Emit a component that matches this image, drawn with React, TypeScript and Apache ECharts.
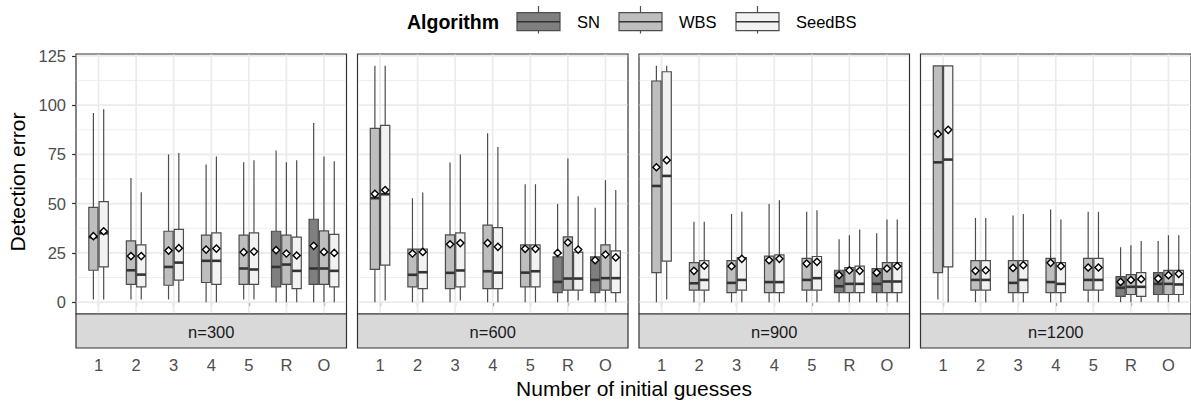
import React, { useEffect, useRef } from "react";
import * as echarts from "echarts";

const categories = ["1", "2", "3", "4", "5", "R", "O"];
const panelLabels = ["n=300", "n=600", "n=900", "n=1200"];
const algorithms = ["SN", "WBS", "SeedBS"];
const algoFill = ["#7f7f7f", "#bebebe", "#f2f2f2"];
const yTicks = [0, 25, 50, 75, 100, 125];
const yMinor = [12.5, 37.5, 62.5, 87.5, 112.5];

// [lower whisker, Q1, median, Q3, upper whisker] per category; null = not present
const n300_SN = [null, null, null, null, null, [0, 7.8, 17.9, 36, 77], [0, 9, 17.1, 42.1, 91]];
const n300_SN_mean = [null, null, null, null, null, 26.4, 28.6];
const n300_WBS = [[1.4, 16.2, 33, 48.1, 96.1], [1.4, 9, 16.2, 31.1, 63.1], [1.4, 8.6, 17.9, 36, 75], [0, 10, 21, 34, 69.9], [1.4, 9, 17.1, 34, 71], [0, 9, 19.1, 34, 71], [0, 9, 17.1, 36.2, 74]];
const n300_WBS_mean = [33.5, 23.4, 26.2, 26.7, 25.4, 24.7, 25.5];
const n300_SeedBS = [[1.4, 17.9, 35, 51.1, 98], [1.4, 7.8, 14, 29.1, 55.8], [0, 11.2, 20.1, 37, 75.8], [0, 9, 21, 35.2, 74], [1.4, 9, 16.6, 35.2, 72], [0, 6.9, 15.9, 33, 72], [0, 7.8, 15.9, 34.4, 71.6]];
const n300_SeedBS_mean = [36, 23.4, 27.4, 27.2, 25.7, 23.7, 25];

const n600_SN = [null, null, null, null, null, [0, 4.9, 10.3, 23, 49.9], [0, 4.9, 11.3, 23, 47.9]];
const n600_SN_mean = [null, null, null, null, null, 25, 21.3];
const n600_WBS = [[0, 16.7, 52.8, 88.2, 120], [0, 7.8, 13.9, 26.9, 52.8], [0, 6.9, 14.9, 34.2, 70.9], [0, 6.9, 15.7, 39.1, 85.8], [0, 7.8, 15, 29.1, 59.9], [0, 6.1, 12, 33.2, 72.9], [0, 6.1, 12.2, 29.1, 61.9]];
const n600_WBS_mean = [55, 24.7, 29.4, 30, 27.1, 30.3, 24.2];
const n600_SeedBS = [[0.8, 18.8, 54.8, 89.8, 120], [0, 6.9, 15.2, 26.9, 55.7], [0.8, 7.8, 16.1, 35.2, 75], [0, 6.9, 15, 37.9, 78.8], [0, 7.8, 15.7, 29.1, 59.9], [0.8, 6.1, 12, 25.4, 53.8], [0, 4.9, 12.2, 26, 56.9]];
const n600_SeedBS_mean = [56.9, 25.5, 30, 28.1, 27.1, 26.7, 22.7];

const n900_SN = [null, null, null, null, null, [0, 4.9, 8.1, 16.2, 32], [0, 4.9, 9.3, 17.1, 35]];
const n900_SN_mean = [null, null, null, null, null, 13.7, 15];
const n900_WBS = [[0, 15, 59, 112.3, 120], [0, 6.1, 9.6, 20.1, 40.8], [0, 4.9, 9.8, 21.1, 44.8], [0, 4.9, 10.2, 23.4, 49.9], [0, 6.1, 11.3, 22.2, 45.9], [0, 4.9, 9.3, 17.6, 34], [0, 4.9, 10.5, 20.1, 42]];
const n900_WBS_mean = [68.5, 15.9, 18.3, 21.3, 19.6, 16.2, 17.1];
const n900_SeedBS = [[1.4, 20.8, 64.1, 117, 120], [0, 6.1, 11.3, 21.1, 40.8], [0, 6.1, 11.3, 22.6, 45.9], [0, 4.9, 10.2, 24, 51.8], [0, 6.1, 12.2, 23.2, 46.7], [0, 4.9, 9.3, 18.3, 36.9], [0, 4.9, 10.5, 20.1, 42]];
const n900_SeedBS_mean = [72.1, 18.5, 22, 22, 20.5, 15.9, 18.3];

const n1200_SN = [null, null, null, null, null, [0, 2.9, 7.3, 13, 27.9], [0, 3.9, 9.3, 15, 31]];
const n1200_SN_mean = [null, null, null, null, null, 10.3, 12];
const n1200_WBS = [[1.4, 15, 71, 120, 120], [0, 6.1, 11.3, 21.1, 42.8], [0, 4.9, 9.8, 21.1, 44], [0, 4.9, 10.2, 22.2, 47], [0, 6.1, 11.3, 22.2, 45.9], [0, 3.9, 7.8, 14, 28.9], [0, 3.9, 9.3, 16.1, 34]];
const n1200_WBS_mean = [85.4, 15.9, 17.4, 20, 17.6, 11.3, 13.7];
const n1200_SeedBS = [[0, 17.9, 72.4, 120, 120], [0, 6.1, 11.3, 21.1, 42.8], [0, 4.9, 11.3, 21.1, 44.8], [0, 4.9, 9.3, 20.1, 42], [0, 6.1, 11.3, 22.2, 45.9], [0, 2.9, 7.8, 15, 31], [0, 3.9, 9, 16.1, 34]];
const n1200_SeedBS_mean = [87.5, 16.2, 18.8, 18.3, 17.6, 11.7, 14.4];

const panelBoxes = [
  [n300_SN, n300_WBS, n300_SeedBS],
  [n600_SN, n600_WBS, n600_SeedBS],
  [n900_SN, n900_WBS, n900_SeedBS],
  [n1200_SN, n1200_WBS, n1200_SeedBS],
];
const panelMeans = [
  [n300_SN_mean, n300_WBS_mean, n300_SeedBS_mean],
  [n600_SN_mean, n600_WBS_mean, n600_SeedBS_mean],
  [n900_SN_mean, n900_WBS_mean, n900_SeedBS_mean],
  [n1200_SN_mean, n1200_WBS_mean, n1200_SeedBS_mean],
];

const FONT = "'Liberation Sans', Arial, Helvetica, sans-serif";
const PANEL_LEFT = [76, 357.5, 639, 920.5];
const PANEL_W = 270.5;
const PANEL_TOP = 54;
const PANEL_H = 260;
const STRIP_H = 34;
const BOX_W = 0.245;
const DODGE = 0.274;

function buildOption() {
  const grids: any[] = [];
  const xAxes: any[] = [];
  const yAxes: any[] = [];
  const series: any[] = [];
  const graphics: any[] = [];
  const catVals = categories.map((_, i) => i + 1);

  PANEL_LEFT.forEach((left, p) => {
    grids.push({
      left,
      top: PANEL_TOP,
      width: PANEL_W,
      height: PANEL_H,
      show: true,
      backgroundColor: "#ffffff",
      borderColor: "#333333",
      borderWidth: 1.2,
    });
    xAxes.push({
      type: "value",
      gridIndex: p,
      min: 0.4,
      max: 7.6,
      offset: STRIP_H,
      axisLine: { show: false },
      axisTick: { show: true, customValues: catVals, length: 4, lineStyle: { color: "#333333", width: 1.2 } },
      axisLabel: {
        customValues: catVals,
        formatter: (v: number) => categories[Math.round(v) - 1] ?? "",
        fontSize: 16.5,
        color: "#4d4d4d",
        margin: 8,
        fontFamily: FONT,
      },
      splitLine: { show: false },
    });
    yAxes.push({
      type: "value",
      gridIndex: p,
      min: -6,
      max: 126,
      show: p === 0,
      axisLine: { show: false },
      axisTick: { show: true, customValues: yTicks, length: 4, lineStyle: { color: "#333333", width: 1.2 } },
      axisLabel: {
        customValues: yTicks,
        fontSize: 16.5,
        color: "#4d4d4d",
        margin: 10,
        fontFamily: FONT,
      },
      splitLine: { show: false },
    });

    // grid lines
    const gridData: any[] = [];
    yTicks.forEach((v) => gridData.push([1, v, 0]));
    yMinor.forEach((v) => gridData.push([1, v, 1]));
    catVals.forEach((v) => gridData.push([v, 0, 2]));
    series.push({
      type: "custom",
      xAxisIndex: p,
      yAxisIndex: p,
      silent: true,
      z: 1,
      data: gridData,
      renderItem: (params: any, api: any) => {
        const cs = params.coordSys;
        const kind = api.value(2);
        if (kind === 2) {
          const x = api.coord([api.value(0), 0])[0];
          return {
            type: "line",
            shape: { x1: x, y1: cs.y + 0.6, x2: x, y2: cs.y + cs.height - 0.6 },
            style: { stroke: "#ebebeb", lineWidth: 1.7 },
          };
        }
        const y = api.coord([1, api.value(1)])[1];
        return {
          type: "line",
          shape: { x1: cs.x + 0.6, y1: y, x2: cs.x + cs.width - 0.6, y2: y },
          style: { stroke: "#ebebeb", lineWidth: kind === 0 ? 1.7 : 0.85 },
        };
      },
    });

    // boxes
    algorithms.forEach((algo, a) => {
      const boxes = panelBoxes[p][a];
      const means = panelMeans[p][a];
      const data: any[] = [];
      boxes.forEach((b: any, c: number) => {
        if (!b) return;
        const present = algorithms.map((_, k) => panelBoxes[p][k][c] != null);
        const idxs = present.map((ok, k) => (ok ? k : -1)).filter((k) => k >= 0);
        const pos = idxs.indexOf(a);
        const off = (pos - (idxs.length - 1) / 2) * DODGE;
        data.push([c + 1, b[0], b[1], b[2], b[3], b[4], means[c], off]);
      });
      const fill = algoFill[a];
      series.push({
        type: "custom",
        name: algo,
        xAxisIndex: p,
        yAxisIndex: p,
        z: 3,
        silent: true,
        data,
        renderItem: (params: any, api: any) => {
          const cat = api.value(0);
          const off = api.value(7);
          const unit = api.size([1, 0])[0];
          const cx = api.coord([cat + off, 0])[0];
          const yLo = api.coord([cat, api.value(1)])[1];
          const yQ1 = api.coord([cat, api.value(2)])[1];
          const yMed = api.coord([cat, api.value(3)])[1];
          const yQ3 = api.coord([cat, api.value(4)])[1];
          const yHi = api.coord([cat, api.value(5)])[1];
          const yMean = api.coord([cat, api.value(6)])[1];
          const hw = (BOX_W * unit) / 2;
          const r = 3.6;
          return {
            type: "group",
            children: [
              { type: "line", shape: { x1: cx, y1: yQ3, x2: cx, y2: yHi }, style: { stroke: "#4d4d4d", lineWidth: 1.2 } },
              { type: "line", shape: { x1: cx, y1: yQ1, x2: cx, y2: yLo }, style: { stroke: "#4d4d4d", lineWidth: 1.2 } },
              {
                type: "rect",
                shape: { x: cx - hw, y: yQ3, width: hw * 2, height: yQ1 - yQ3 },
                style: { fill, stroke: "#4d4d4d", lineWidth: 1.2 },
              },
              {
                type: "line",
                shape: { x1: cx - hw, y1: yMed, x2: cx + hw, y2: yMed },
                style: { stroke: "#333333", lineWidth: 2.6 },
              },
              {
                type: "polygon",
                z2: 10,
                shape: { points: [[cx, yMean - r], [cx + r, yMean], [cx, yMean + r], [cx - r, yMean]] },
                style: { fill: "#ffffff", stroke: "#000000", lineWidth: 1.4 },
              },
            ],
          };
        },
      });
    });

    // strip
    graphics.push({
      type: "rect",
      shape: { x: left, y: PANEL_TOP + PANEL_H, width: PANEL_W, height: STRIP_H },
      style: { fill: "#d9d9d9", stroke: "#333333", lineWidth: 1.2 },
      z: 5,
    });
    graphics.push({
      type: "text",
      x: left + PANEL_W / 2,
      y: PANEL_TOP + PANEL_H + STRIP_H / 2 + 0.5,
      style: {
        text: panelLabels[p],
        fill: "#1a1a1a",
        font: `16.5px ${FONT}`,
        align: "center",
        verticalAlign: "middle",
      },
      z: 6,
    });
  });

  // axis titles
  graphics.push({
    type: "text",
    x: 17.5,
    y: 182,
    rotation: Math.PI / 2,
    style: { text: "Detection error", fill: "#000000", font: `21px ${FONT}`, align: "center", verticalAlign: "middle" },
  });
  graphics.push({
    type: "text",
    x: 634,
    y: 388,
    style: { text: "Number of initial guesses", fill: "#000000", font: `21px ${FONT}`, align: "center", verticalAlign: "middle" },
  });

  // legend
  graphics.push({
    type: "text",
    x: 407,
    y: 22,
    style: { text: "Algorithm", fill: "#000000", font: `bold 19.5px ${FONT}`, align: "left", verticalAlign: "middle" },
  });
  const keyX = [517, 619, 736];
  const labelX = [577, 679, 796];
  algorithms.forEach((algo, a) => {
    const kx = keyX[a];
    const cx = kx + 21.5;
    graphics.push({ type: "line", shape: { x1: cx, y1: 6, x2: cx, y2: 12.7 }, style: { stroke: "#4d4d4d", lineWidth: 1.2 } });
    graphics.push({ type: "line", shape: { x1: cx, y1: 30.7, x2: cx, y2: 33.5 }, style: { stroke: "#4d4d4d", lineWidth: 1.2 } });
    graphics.push({
      type: "rect",
      shape: { x: kx, y: 12.7, width: 43, height: 18 },
      style: { fill: algoFill[a], stroke: "#4d4d4d", lineWidth: 1.2 },
    });
    graphics.push({ type: "line", shape: { x1: kx, y1: 21.7, x2: kx + 43, y2: 21.7 }, style: { stroke: "#333333", lineWidth: 1.4 } });
    graphics.push({
      type: "text",
      x: labelX[a],
      y: 22,
      style: { text: algo, fill: "#000000", font: `16.5px ${FONT}`, align: "left", verticalAlign: "middle" },
    });
  });

  return {
    animation: false,
    backgroundColor: "#ffffff",
    textStyle: { fontFamily: FONT },
    grid: grids,
    xAxis: xAxes,
    yAxis: yAxes,
    series,
    graphic: graphics,
  };
}

export default function App() {
  const ref = useRef<HTMLDivElement>(null);
  useEffect(() => {
    if (!ref.current) return;
    const chart = echarts.init(ref.current, undefined, { renderer: "svg" });
    chart.setOption(buildOption() as any);
    return () => chart.dispose();
  }, []);
  return <div ref={ref} style={{ position: "fixed", left: 0, top: 0, width: 1191, height: 407 }} />;
}
